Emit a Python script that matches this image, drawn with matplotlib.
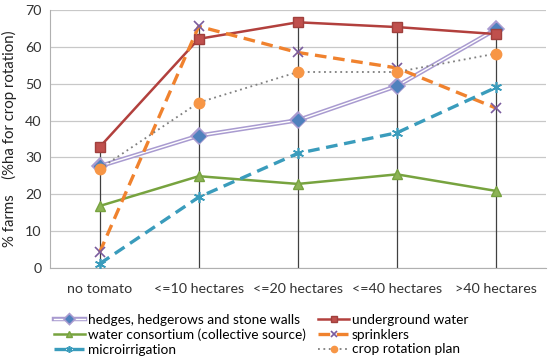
import matplotlib
matplotlib.use("Agg")
import matplotlib.pyplot as plt
import matplotlib.patheffects as pe
import numpy as np

categories = ["no tomato", "<=10 hectares", "<=20 hectares", "<=40 hectares", ">40 hectares"]
hedges = [27.6, 35.9, 40.1, 49.4, 64.8]
underground = [32.8, 62.2, 66.7, 65.4, 63.5]
water_consortium = [16.8, 24.9, 22.8, 25.4, 20.9]
sprinklers = [4.2, 65.6, 58.5, 54.3, 43.4]
microirrigation = [1.1, 19.2, 31.1, 36.7, 49.0]
crop_rotation = [26.9, 44.9, 53.2, 53.2, 58.2]
yticks = [0, 10, 20, 30, 40, 50, 60, 70]

plt.rcParams['font.family'] = ['Lato', 'DejaVu Sans']

fig = plt.figure(figsize=(5.5, 3.62), dpi=100)
ax = fig.add_axes([0.091, 0.26, 0.901, 0.712])

x = np.arange(len(categories))
allv = np.array([hedges, underground, water_consortium, sprinklers, microirrigation, crop_rotation])
ax.vlines(x, 0, allv.max(axis=0), color='#404040', lw=0.9, zorder=2)

lh, = ax.plot(x, hedges, color='white', lw=1.0, marker='D', ms=6, mfc='#4F81BD', mec='#4F81BD',
              label='hedges, hedgerows and stone walls', zorder=4,
              path_effects=[pe.Stroke(linewidth=3.2, foreground='#A99BD0'), pe.Normal()])
lu, = ax.plot(x, underground, color='#B2403D', lw=1.8, marker='s', ms=7, mfc='#C0504D', mec='#A0403D',
              label='underground water', zorder=4)
lw_, = ax.plot(x, water_consortium, color='#77A33F', lw=1.8, marker='^', ms=7, mfc='#8DB356', mec='#77A33F',
               label='water consortium (collective source)', zorder=4)
ls, = ax.plot(x, sprinklers, color='#F0822E', lw=2.4, ls=(0, (3.5, 2)), marker='x', ms=7, mec='#7A5C9E',
              mew=1.2, label='sprinklers', zorder=4)
lm, = ax.plot(x, microirrigation, color='#3A9CBC', lw=2.4, ls=(0, (3.5, 2)), marker=(6, 2, 0), ms=8,
              mec='#3A9CBC', mew=1.2, label='microirrigation', zorder=4)
lc, = ax.plot(x, crop_rotation, color='#7F7F7F', lw=1.3, ls=(0, (1, 2)), marker='o', ms=7.5,
              mfc='#F79646', mec='#F79646', label='crop rotation plan', zorder=4)

ax.set_xlim(-0.5, 4.5)
ax.set_ylim(0, 70)
ax.set_yticks(yticks)
ax.set_xticks(x)
ax.set_xticklabels(categories)
ax.grid(axis='y', color='#C8C8C8', lw=0.9)
ax.set_axisbelow(True)
for s in ['top', 'right']:
    ax.spines[s].set_visible(False)
for s in ['left', 'bottom']:
    ax.spines[s].set_color('#B0B0B0')
ax.tick_params(axis='both', length=0, labelsize=10.3, colors='#333333', pad=6)
ax.tick_params(axis='x', pad=11)
ax.set_ylabel('% farms    (%ha for crop rotation)', fontsize=10.8, color='#222222', labelpad=6)

handles = [lh, lw_, lm, lu, ls, lc]
fig.legend(handles=handles, labels=[h.get_label() for h in handles], ncol=2, frameon=False,
           loc='upper left', bbox_to_anchor=(0.088, 0.148), fontsize=9.8, handlelength=2.3,
           handletextpad=0.2, columnspacing=0.9, labelspacing=0.2, borderaxespad=0,
           markerscale=0.6)

fig.savefig('out.png', dpi=100)
